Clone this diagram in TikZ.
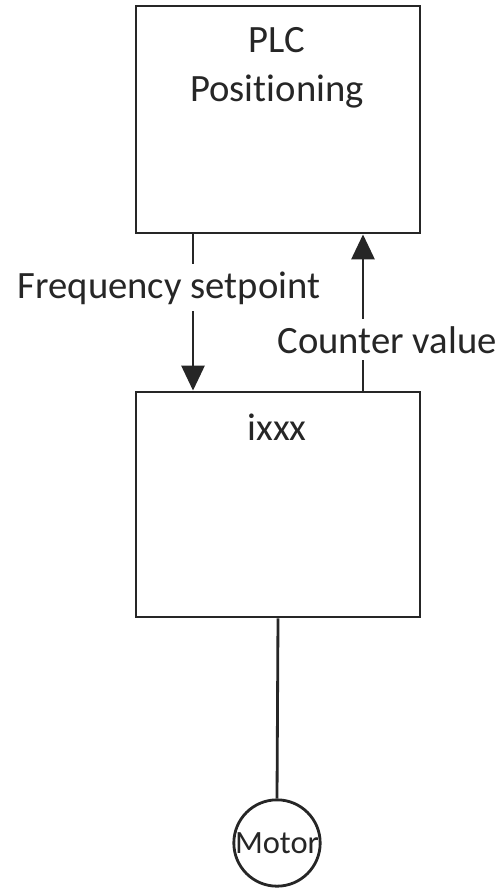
\documentclass[tikz,border=0pt]{standalone}
\usepackage{fontspec}
\setmainfont{Carlito}[Ligatures={NoCommon}]
\usetikzlibrary{arrows.meta, positioning}

\begin{document}
\begin{tikzpicture}[box/.style={draw=black!85, line width=1.6pt, minimum width=5.68cm, minimum height=4.5cm}, arrow/.style={-{Triangle[length=5mm, width=4.6mm]}, line width=1.6pt, draw=black!85}, lbl/.style={fill=white, inner sep=1pt, font=\fontsize{22}{28}\selectfont, text=black!85}]
\useasboundingbox (0,0) rectangle (10.08,-17.76);
\node[box, minimum height=4.54cm] (plc) at (5.56,-2.39) {};
\node[box] (ixxx) at (5.56,-10.09) {};
\node[draw=black!85, line width=1.6pt, circle, minimum size=1.72cm, inner sep=0pt, font=\fontsize{18.5}{20}\selectfont, text=black!85] (motor) at (5.54,-16.86) {Motor};
\node[lbl, align=center, anchor=north] (plctext) at (5.54,-0.5) {PLC\\Positioning};
\node[lbl, anchor=base] (ixxxtext) at (5.54,-8.8) {ixxx};
\draw[arrow] ([xshift=-1.7cm]plc.south) -- ([xshift=-1.7cm]ixxx.north);
\draw[arrow] ([xshift=1.7cm]ixxx.north) -- ([xshift=1.7cm]plc.south);
\draw[line width=1.6pt, draw=black!85] (ixxx.south) -- (motor.north);
\node[lbl, anchor=base, inner sep=4pt] (freq) at (3.38,-5.96) {Frequency setpoint};
\node[lbl, anchor=base, inner sep=4pt] (count) at (7.74,-7.06) {Counter value};
\end{tikzpicture}
\end{document}
